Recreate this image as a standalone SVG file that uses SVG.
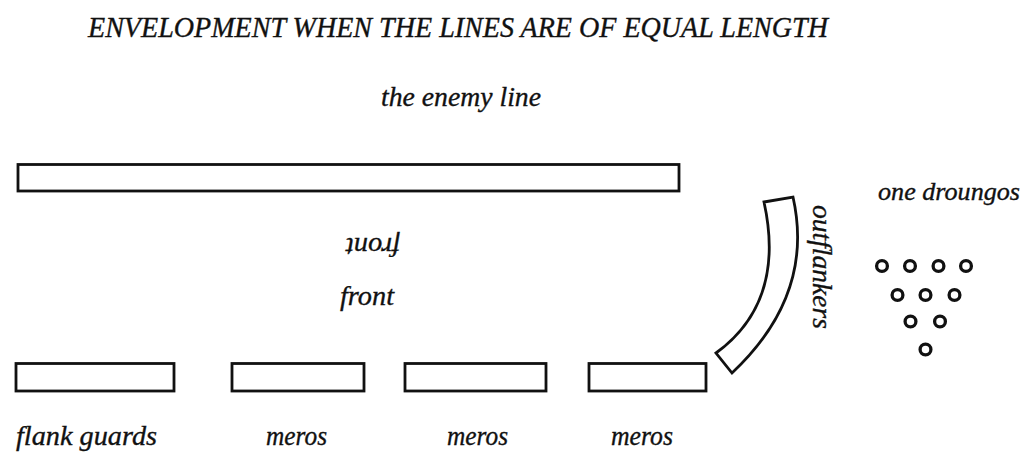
<svg xmlns="http://www.w3.org/2000/svg" width="1030" height="457" viewBox="0 0 1030 457">
<style>
  .lbl { font-family: "Liberation Serif", "Times New Roman", serif; font-style: italic; fill: #111; stroke: #111; stroke-width: 0.35; }
  .box { fill: #fff; stroke: #111; stroke-width: 2.8; }
  .man { fill: none; stroke: #111; stroke-width: 3.3; }
</style>
<rect width="1030" height="457" fill="#fff"/>
<text class="lbl" x="88" y="37" font-size="30" textLength="740" lengthAdjust="spacingAndGlyphs">ENVELOPMENT WHEN THE LINES ARE OF EQUAL LENGTH</text>
<text class="lbl" x="381" y="106" font-size="28" textLength="160" lengthAdjust="spacingAndGlyphs">the enemy line</text>

<g id="enemy-line">
  <rect class="box" x="18" y="164.5" width="661" height="26.5"/>
</g>

<g id="front-enemy">
  <text class="lbl" font-size="28" transform="translate(400,238) rotate(180)" x="0" y="0" textLength="54" lengthAdjust="spacingAndGlyphs">front</text>
</g>
<g id="front-own">
  <text class="lbl" x="340" y="305" font-size="28" textLength="54" lengthAdjust="spacingAndGlyphs">front</text>
</g>

<g id="flank-guards">
  <rect class="box" x="16" y="363.5" width="158" height="27.5"/>
  <text class="lbl" x="16" y="445" font-size="27" textLength="141" lengthAdjust="spacingAndGlyphs">flank guards</text>
</g>
<g id="meros-1">
  <rect class="box" x="232" y="363.5" width="132" height="27.5"/>
  <text class="lbl" x="266" y="445" font-size="27" textLength="61" lengthAdjust="spacingAndGlyphs">meros</text>
</g>
<g id="meros-2">
  <rect class="box" x="405" y="363.5" width="141" height="27.5"/>
  <text class="lbl" x="447" y="445" font-size="27" textLength="61" lengthAdjust="spacingAndGlyphs">meros</text>
</g>
<g id="meros-3">
  <rect class="box" x="589" y="363.5" width="117" height="27.5"/>
  <text class="lbl" x="611" y="445" font-size="27" textLength="62" lengthAdjust="spacingAndGlyphs">meros</text>
</g>

<g id="outflankers">
  <path class="box" d="M764,202 L793,197 Q815,295 732,373 L716,353 Q786,302 764,202 Z"/>
  <text class="lbl" font-size="27" transform="translate(813,267) rotate(90)" x="0" y="0" text-anchor="middle" textLength="124" lengthAdjust="spacingAndGlyphs">outflankers</text>
</g>

<g id="droungos">
  <text class="lbl" x="878" y="200" font-size="26" textLength="142" lengthAdjust="spacingAndGlyphs">one droungos</text>
  <circle class="man" cx="882" cy="266" r="5.4"/>
  <circle class="man" cx="910" cy="266" r="5.4"/>
  <circle class="man" cx="938.5" cy="266" r="5.4"/>
  <circle class="man" cx="966" cy="266" r="5.4"/>
  <circle class="man" cx="897.5" cy="295" r="5.4"/>
  <circle class="man" cx="925.5" cy="295" r="5.4"/>
  <circle class="man" cx="954.5" cy="295" r="5.4"/>
  <circle class="man" cx="910.5" cy="321.5" r="5.4"/>
  <circle class="man" cx="940" cy="321.5" r="5.4"/>
  <circle class="man" cx="925.5" cy="349.5" r="5.4"/>
</g>
<g id="connectors"></g>
</svg>
